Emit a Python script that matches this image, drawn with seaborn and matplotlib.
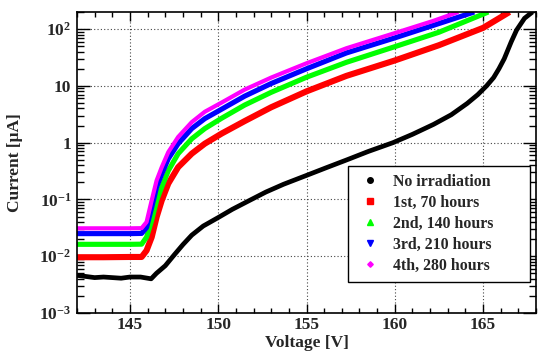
import numpy as np
import pandas as pd
import seaborn as sns
import matplotlib
matplotlib.use("Agg")
import matplotlib.pyplot as plt
from matplotlib.lines import Line2D
from matplotlib.ticker import FixedLocator, FixedFormatter, MultipleLocator, LogLocator, NullFormatter

# ---------------- data ----------------
v_none = [142.0, 142.5, 143.0, 143.5, 144.0, 144.5, 145.0, 145.6, 146.2, 146.5, 147.0, 147.5,
          148.0, 148.5, 149.15, 150.0, 150.8, 151.8, 152.7, 153.7, 155.0, 156.1, 157.3, 158.5,
          159.9, 161.0, 162.2, 163.2, 164.1, 164.7, 165.2, 165.6, 165.9, 166.2, 166.6, 166.9,
          167.35, 167.8]
i_none = [0.0046, 0.0044, 0.0042, 0.0043, 0.0042, 0.0041, 0.0043, 0.0043, 0.0040, 0.0050, 0.0068,
          0.0105, 0.016, 0.0235, 0.034, 0.048, 0.067, 0.097, 0.135, 0.185, 0.265, 0.36, 0.50, 0.70,
          1.0, 1.4, 2.1, 3.1, 4.9, 7.0, 10, 14, 20, 30, 60, 96, 155, 200]

v_70 = [142.0, 143.5, 145.0, 145.66, 145.94, 146.23, 146.51, 146.8, 147.17, 147.73, 148.5, 149.24,
        150.2, 151.5, 153.0, 155.0, 157.26, 160.0, 162.5, 165.0, 166.5]
i_70 = [0.0096, 0.0096, 0.0097, 0.0097, 0.0126, 0.0216, 0.049, 0.096, 0.19, 0.37, 0.64, 0.96,
        1.45, 2.4, 4.2, 8.0, 15, 28, 52, 105, 200]

v_140 = [142.0, 143.5, 145.0, 145.66, 145.94, 146.23, 146.51, 146.8, 147.17, 147.73, 148.5, 149.24,
         150.2, 151.5, 153.0, 155.0, 157.26, 160.0, 162.5, 165.3]
i_140 = [0.0162, 0.0162, 0.0162, 0.0163, 0.0216, 0.043, 0.096, 0.166, 0.32, 0.64, 1.17, 1.77,
         2.7, 4.6, 7.7, 14.2, 26, 49, 88, 200]

v_210 = [142.0, 143.5, 145.0, 145.66, 145.94, 146.23, 146.51, 146.8, 147.17, 147.73, 148.5, 149.24,
         150.2, 151.5, 153.0, 155.0, 157.26, 160.0, 163.1, 164.5]
i_210 = [0.025, 0.025, 0.025, 0.0252, 0.032, 0.072, 0.166, 0.28, 0.52, 0.96, 1.77, 2.65,
         3.9, 6.6, 11, 20, 38, 70, 144, 200]

v_280 = [142.0, 143.5, 145.0, 145.66, 145.94, 146.23, 146.51, 146.8, 147.17, 147.73, 148.5, 149.24,
         150.2, 151.5, 153.0, 155.0, 157.26, 160.0, 162.2, 163.6]
i_280 = [0.031, 0.031, 0.031, 0.0312, 0.040, 0.096, 0.216, 0.37, 0.68, 1.26, 2.3, 3.5,
         5.1, 8.6, 14, 25, 46, 85, 140, 200]

labels = ["No irradiation", "1st, 70 hours", "2nd, 140 hours", "3rd, 210 hours", "4th, 280 hours"]
y_ticks = [1e-3, 1e-2, 1e-1, 1, 10, 100]
y_ticklabels = [r"$10^{-3}$", r"$10^{-2}$", r"$10^{-1}$", "1", "10", r"$10^{2}$"]
x_ticks = [145, 150, 155, 160, 165]

# ---------------- style ----------------
sns.set_theme(style="ticks")
plt.rcParams["font.family"] = ["Liberation Serif", "DejaVu Serif"]
plt.rcParams["font.weight"] = "bold"
plt.rcParams["mathtext.fontset"] = "custom"
plt.rcParams["mathtext.rm"] = "Liberation Serif:bold"
plt.rcParams["mathtext.it"] = "Liberation Serif:bold:italic"
plt.rcParams["mathtext.bf"] = "Liberation Serif:bold"
plt.rcParams["mathtext.default"] = "rm"

fig = plt.figure(figsize=(5.47, 3.56), dpi=100)
ax = fig.add_axes([77 / 547, 1 - 313 / 356, 459 / 547, 301 / 356])

series = [
    (v_none, i_none, "black", 3.4),
    (v_70, i_70, "#ff0000", 4.4),
    (v_140, i_140, "#00ff00", 3.7),
    (v_210, i_210, "#0000ff", 3.7),
    (v_280, i_280, "#ff00ff", 3.0),
]
for vx, iy, col, lw in series:
    df = pd.DataFrame({"V": vx, "I": iy})
    sns.lineplot(data=df, x="V", y="I", color=col, linewidth=lw, sort=False,
                 ax=ax, legend=False, solid_capstyle="butt", solid_joinstyle="round")

ax.set_yscale("log")
ax.set_xlim(142, 168)
ax.set_ylim(1e-3, 200)

# ticks
ax.xaxis.set_major_locator(FixedLocator(x_ticks))
ax.xaxis.set_minor_locator(MultipleLocator(1))
ax.yaxis.set_major_locator(FixedLocator(y_ticks))
ax.yaxis.set_major_formatter(FixedFormatter(y_ticklabels))
ax.yaxis.set_minor_locator(LogLocator(base=10, subs=np.arange(2, 10)))
ax.yaxis.set_minor_formatter(NullFormatter())

ax.tick_params(axis="both", which="both", direction="in", top=True, right=True, color="black")
ax.tick_params(axis="x", which="major", length=6.5, width=1.0, labelsize=12.5, pad=3)
ax.tick_params(axis="x", which="minor", length=3.5, width=1.0)
ax.tick_params(axis="y", which="major", length=9.5, width=1.0, labelsize=12.5, pad=4)
ax.tick_params(axis="y", which="minor", length=5, width=1.0)
for lab in ax.get_xticklabels() + ax.get_yticklabels():
    lab.set_fontweight("bold")

for sp in ax.spines.values():
    sp.set_linewidth(1.2)
    sp.set_color("black")

ax.grid(True, which="major", color="#444444", linestyle=(0, (1, 2)), linewidth=0.8)
ax.set_axisbelow(True)

ax.set_xlabel("Voltage [V]", fontsize=12.5, fontweight="bold")
ax.set_ylabel("Current [\u03bcA]", fontsize=12.5, fontweight="bold")
ax.xaxis.set_label_coords(0.5, -0.074)
ax.yaxis.set_label_coords(-0.118, 0.5)

# legend
handles = [
    Line2D([], [], linestyle="none", marker="o", color="black", markersize=4),
    Line2D([], [], linestyle="none", marker="s", color="#ff0000", markersize=5),
    Line2D([], [], linestyle="none", marker="^", color="#00ff00", markersize=4),
    Line2D([], [], linestyle="none", marker="v", color="#0000ff", markersize=4),
    Line2D([], [], linestyle="none", marker="D", color="#ff00ff", markersize=2.8),
]
leg = ax.legend(handles, labels, loc="upper left", bbox_to_anchor=(0.59, 0.488, 0.397, 0.0),
                mode="expand", borderaxespad=0, frameon=True, fancybox=False, shadow=False,
                prop={"family": "Liberation Serif", "weight": "bold", "size": 11.4},
                borderpad=0.48, handlelength=1.85, handletextpad=0.5, labelspacing=0.32,
                framealpha=1.0)
leg.get_frame().set_edgecolor("black")
leg.get_frame().set_linewidth(1.0)

fig.savefig("out.png", dpi=100)
